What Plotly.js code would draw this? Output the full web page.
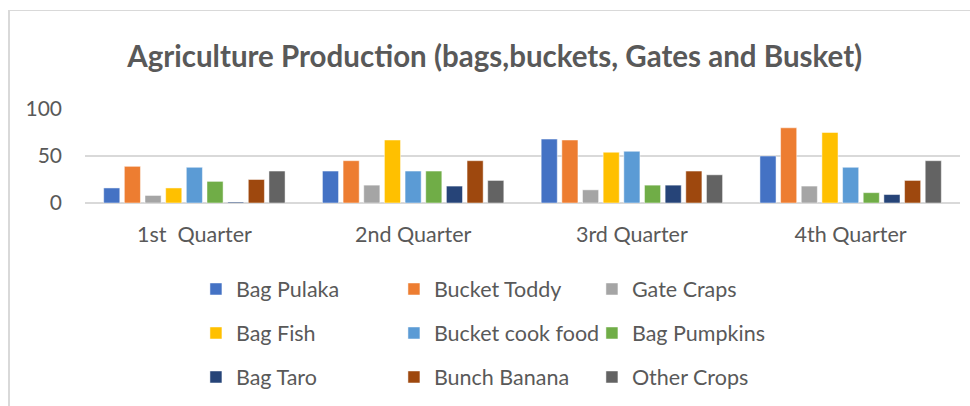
<!DOCTYPE html>
<html>
<head>
<meta charset="utf-8">
<script src="https://cdn.plot.ly/plotly-3.0.1.min.js"></script>
<style>
html,body{margin:0;padding:0;background:#fff;}
#wrap{position:relative;width:970px;height:406px;}
#chart{position:absolute;left:0;top:0;width:970px;height:406px;}
#frame{position:absolute;left:8px;top:10px;width:962px;height:396px;border-left:2px solid #d9d9d9;border-top:1px solid #d9d9d9;pointer-events:none;z-index:5;box-sizing:border-box;}
</style>
</head>
<body>
<div id="wrap"><div id="chart"></div><div id="frame"></div></div>
<script>
const categories = ["1st  Quarter", "2nd Quarter", "3rd Quarter", "4th Quarter"];
const seriesNames = ["Bag Pulaka", "Bucket Toddy", "Gate Craps", "Bag Fish", "Bucket cook food", "Bag Pumpkins", "Bag Taro", "Bunch Banana", "Other Crops"];
const bagPulaka     = [16, 34, 68, 50];
const bucketToddy   = [39, 45, 67, 80];
const gateCraps     = [8, 19, 14, 18];
const bagFish       = [16, 67, 54, 75];
const bucketCook    = [38, 34, 55, 38];
const bagPumpkins   = [23, 34, 19, 11];
const bagTaro       = [1, 18, 19, 9];
const bunchBanana   = [25, 45, 34, 24];
const otherCrops    = [34, 24, 30, 45];
const yTicks = [0, 50, 100];

const values = [bagPulaka, bucketToddy, gateCraps, bagFish, bucketCook, bagPumpkins, bagTaro, bunchBanana, otherCrops];
const colors = ["#4472C4", "#ED7D31", "#A5A5A5", "#FFC000", "#5B9BD5", "#70AD47", "#264478", "#9E480E", "#636363"];
const legendIds = ["legend", "legend", "legend", "legend2", "legend2", "legend2", "legend3", "legend3", "legend3"];

const FONT = "Lato, 'Open Sans', sans-serif";
const traces = seriesNames.map((n, i) => ({
  type: "bar",
  name: n,
  x: categories,
  y: values[i],
  marker: {color: colors[i], line: {color: "rgba(255,255,255,0.6)", width: 0.8}},
  legend: legendIds[i],
  hoverinfo: "none"
}));

function leg(y) {
  return {
    orientation: "h",
    xref: "container", yref: "container",
    x: 0.202, y: y, xanchor: "left", yanchor: "middle",
    entrywidth: 153, entrywidthmode: "pixels",
    font: {family: FONT, size: 21.5, color: "#595959"},
    bgcolor: "rgba(0,0,0,0)",
    traceorder: "normal"
  };
}

const layout = {
  width: 970, height: 406,
  margin: {l: 85, r: 10, t: 109, b: 203},
  paper_bgcolor: "#ffffff",
  plot_bgcolor: "#ffffff",
  title: {
    text: "<b>Agriculture Production (bags,buckets, Gates and Busket)</b>",
    font: {family: FONT, size: 29.5, color: "#595959"},
    x: 0.51, xanchor: "center", xref: "container",
    y: 1 - 57/406, yanchor: "middle", yref: "container"
  },
  barmode: "group",
  bargap: 0.15,
  bargroupgap: 0.22,
  xaxis: {
    type: "category",
    showgrid: false, zeroline: false, showline: false,
    ticks: "", ticklabelstandoff: 16,
    tickfont: {family: FONT, size: 21.5, color: "#595959"}
  },
  yaxis: {
    range: [0, 100],
    tickvals: yTicks,
    ticktext: yTicks.map(String),
    showgrid: true, gridcolor: "#d9d9d9", gridwidth: 1.5,
    zeroline: true, zerolinecolor: "#d9d9d9", zerolinewidth: 1.5,
    showline: false, ticks: "", ticklabelstandoff: 22,
    tickfont: {family: FONT, size: 21, color: "#595959"}
  },
  legend: leg(1 - 289/406),
  legend2: leg(1 - 333/406),
  legend3: leg(1 - 377/406),
  showlegend: true
};

Plotly.newPlot("chart", traces, layout, {displayModeBar: false, staticPlot: true});
</script>
</body>
</html>
